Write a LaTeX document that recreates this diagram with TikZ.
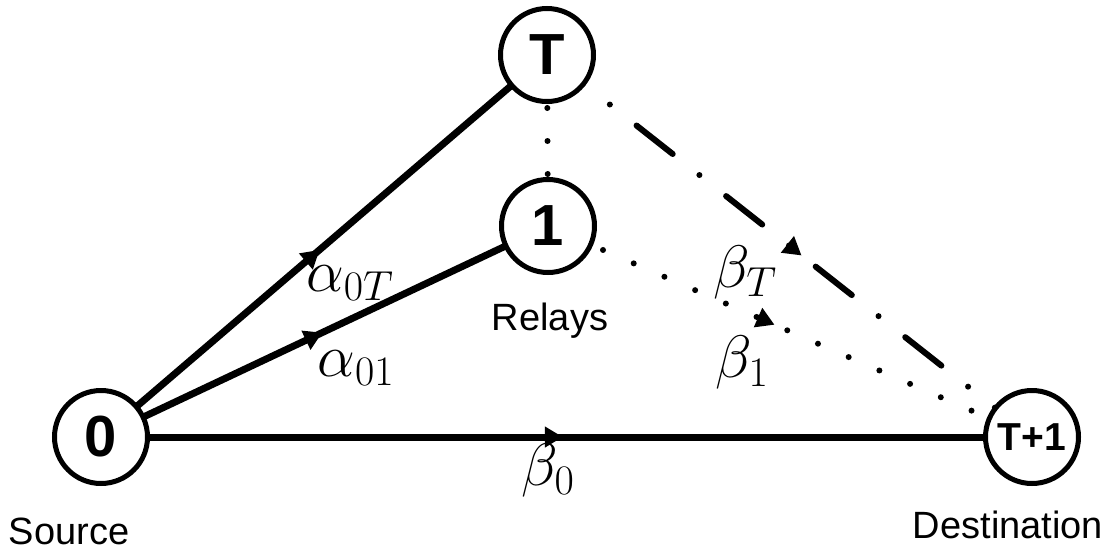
\RequirePackage{fix-cm}
\documentclass[tikz,border=0pt]{standalone}
\usepackage[no-math]{fontspec}
\setmainfont{Liberation Sans}
\usetikzlibrary{arrows.meta,decorations.markings,backgrounds}
\tikzset{
  vnode/.style={circle, draw, fill=white, line width=5pt, minimum size=93pt, inner sep=0pt,
    font=\fontsize{58}{60}\selectfont\bfseries},
  smallvnode/.style={vnode, font=\fontsize{39}{42}\selectfont\bfseries},
  caption/.style={inner sep=0pt, font=\fontsize{38}{40}\selectfont, anchor=base},
  mlabel/.style={inner sep=0pt, font=\fontsize{60}{64}\selectfont},
  midarrow/.style={postaction={decorate, decoration={markings,
     mark=at position #1 with {\arrow{Triangle[length=18pt,width=20pt]}}}}},
  solidlink/.style={line width=7pt},
  dashdotlink/.style={line width=6pt, line cap=round, dash pattern=on 46pt off 34pt on 0pt off 34pt},
  dotlink/.style={line width=6pt, line cap=round, dash pattern=on 0pt off 33.5pt, dash phase=7pt},
  vdotlink/.style={line width=6pt, line cap=round, dash pattern=on 0pt off 33pt, dash phase=13pt}
}
\begin{document}
\begin{tikzpicture}[x=1pt,y=-1pt]
\useasboundingbox (0,0) rectangle (1116,552);
\node[vnode] (n0) at (101,437) {0};
\node[vnode] (nT) at (547,55) {T};
\node[vnode] (n1) at (548,226) {1};
\node[smallvnode] (nD) at (1032,437) {T+1};
\begin{scope}[on background layer]
\fill[white] (0,0) rectangle (1116,552);
\draw[solidlink, midarrow=0.49] (n0.center) -- (nT.center);
\draw[solidlink, midarrow=0.495] (n0.center) -- (n1.center);
\draw[solidlink, midarrow=0.496] (n0.center) -- (nD.center);
\draw[dashdotlink, midarrow=0.525] (nT.center) -- (nD.center);
\draw[dotlink, midarrow=0.468] (n1.center) -- (nD.center);
\draw[vdotlink] (nT.center) -- (n1.center);
\end{scope}
\node[caption] (src) at (69,544) {Source};
\node[caption] (rel) at (550,330) {Relays};
\node[caption] (dst) at (1008,538) {Destination};
\node[mlabel] (a0T) at (350,283) {$\alpha_{0T}$};
\node[mlabel] (a01) at (356,368) {$\alpha_{01}$};
\node[mlabel] (b0) at (548,470) {$\beta_0$};
\node[mlabel] (bT) at (745,272) {$\beta_T$};
\node[mlabel] (b1) at (742,362) {$\beta_1$};
\end{tikzpicture}
\end{document}
